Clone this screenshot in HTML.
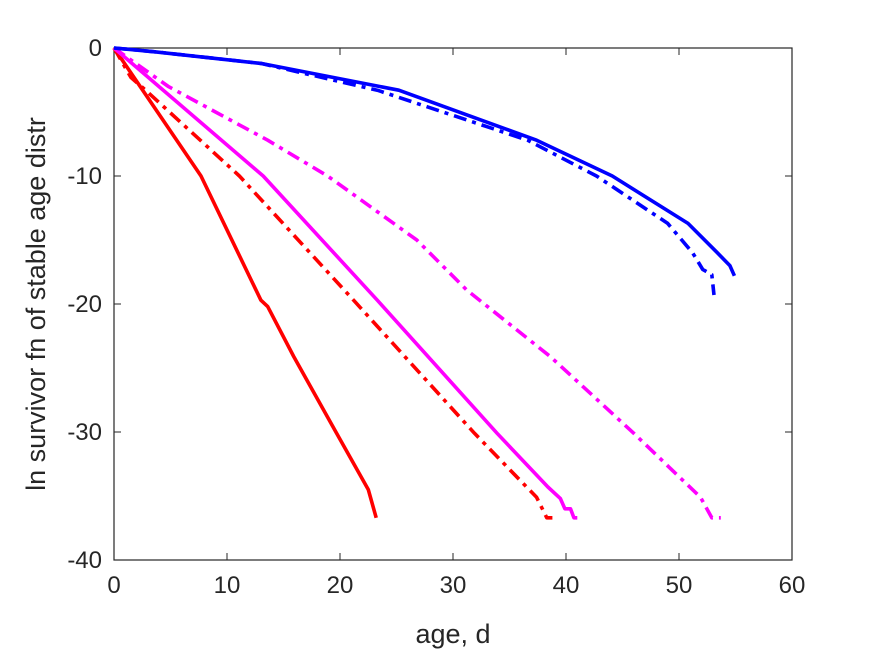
<!DOCTYPE html>
<html><head><meta charset="utf-8"><style>
body{margin:0;background:#fff}
svg text{font-family:"Liberation Sans",sans-serif;fill:#262626}
</style></head><body>
<svg width="875" height="656" viewBox="0 0 875 656">
<rect width="875" height="656" fill="#fff"/>
<g id="axes"></g>
<g id="series"></g>
<text x="453" y="643" text-anchor="middle" font-size="27">age, d</text>
<text transform="translate(45,304) rotate(-90)" text-anchor="middle" font-size="27">ln survivor fn of stable age distr</text>
</svg>
<script>
const xTicks=[0,10,20,30,40,50,60];
const yTicks=[0,-10,-20,-30,-40];
const redSolidX=[0,7.7,13,13.6,15.9,19.7,22.5,23.2];
const redSolidY=[0,-10,-19.7,-20.2,-24.1,-30.1,-34.5,-36.7];
const redDashX=[0,1.5,2.8,11.1,21.2,31.9,37.4,38.3,38.8];
const redDashY=[0,-2.3,-3.3,-10,-19.7,-30.1,-35.1,-36.7,-36.7];
const magSolidX=[0,13.2,23.3,33.9,38.4,39.5,39.9,40.4,40.7,41];
const magSolidY=[0,-10,-19.7,-30.1,-34.3,-35.2,-36,-36,-36.7,-36.7];
const magDashX=[0,4.8,13.6,18.9,26.8,31.2,38.6,46,51.9,52.9,53.7];
const magDashY=[0,-3,-7.2,-10,-15,-18.9,-24.1,-30.1,-35.1,-36.7,-36.7];
const blueSolidX=[0,3.6,13,25.2,37.4,44.1,50.8,53.4,54.5,54.9];
const blueSolidY=[0,-0.3,-1.2,-3.3,-7.2,-10,-13.7,-16,-17,-17.8];
const blueDashX=[0,3.6,13,23.3,36.6,42.7,49,51.2,52.1,52.9,53.1];
const blueDashY=[0,-0.3,-1.2,-3.3,-7.2,-10,-13.7,-16,-17.3,-17.7,-19.3];

const L=114,R=792,T=48,B=560;
const sx=v=>L+(v-0)/60*(R-L);
const sy=v=>T+(0-v)/40*(B-T);
const NS="http://www.w3.org/2000/svg";
const ax=document.getElementById('axes');
function mk(tag,attrs,parent){const e=document.createElementNS(NS,tag);for(const k in attrs)e.setAttribute(k,attrs[k]);parent.appendChild(e);return e;}
const box=mk('rect',{x:L,y:T,width:R-L,height:B-T,fill:'none',stroke:'#262626','stroke-width':1.2},ax);


xTicks.forEach(t=>{
  const x=sx(t);
  mk('line',{x1:x,x2:x,y1:B,y2:B-7,stroke:'#262626'},ax);
  mk('line',{x1:x,x2:x,y1:T,y2:T+7,stroke:'#262626'},ax);
  const tx=mk('text',{x:x,y:B+33,'text-anchor':'middle','font-size':24},ax);
  tx.textContent=t;
  
  
});
yTicks.forEach(t=>{
  const y=sy(t);
  mk('line',{x1:L,x2:L+7,y1:y,y2:y,stroke:'#262626'},ax);
  mk('line',{x1:R,x2:R-7,y1:y,y2:y,stroke:'#262626'},ax);
  const tx=mk('text',{x:L-12,y:y+8,'text-anchor':'end','font-size':24},ax);
  tx.textContent=t;
  
  
});
const sg=document.getElementById('series');
function line(xs,ys,color,dash,name){
  const d=xs.map((x,i)=>(i?'L':'M')+sx(x).toFixed(1)+','+sy(ys[i]).toFixed(1)).join('');
  const p=mk('path',{d:d,fill:'none',stroke:color,'stroke-width':3.6,'stroke-linejoin':'round'},sg);
  if(dash)p.setAttribute('stroke-dasharray','13,6,4,6');
  
  
}
line(redSolidX,redSolidY,'#ff0000',false,'red-solid-line');
line(redDashX,redDashY,'#ff0000',true,'red-dashdot-line');
line(magSolidX,magSolidY,'#ff00ff',false,'magenta-solid-line');
line(magDashX,magDashY,'#ff00ff',true,'magenta-dashdot-line');
line(blueSolidX,blueSolidY,'#0000ff',false,'blue-solid-line');
line(blueDashX,blueDashY,'#0000ff',true,'blue-dashdot-line');
</script>
</body></html>
